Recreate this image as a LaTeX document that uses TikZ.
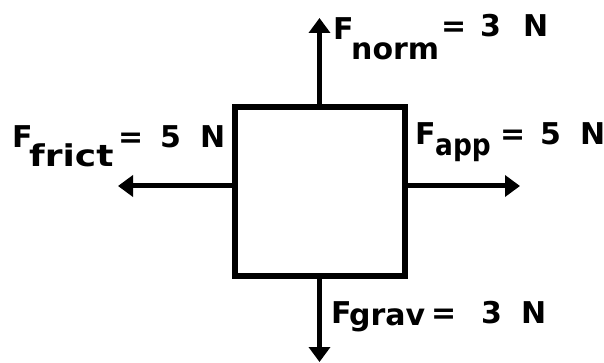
\documentclass[tikz,border=0pt]{standalone}
\usepackage{fontspec}
\setmainfont{DejaVu Sans}
\usetikzlibrary{arrows.meta}
\begin{document}
\begin{tikzpicture}[x=1pt,y=-1pt,
  force/.style={line width=5pt,-{Triangle[width=21pt,length=15pt]}},
  lab/.style={inner sep=0pt,anchor=base west,font=\bfseries\fontsize{30}{30}\selectfont}]
\useasboundingbox (0,0) rectangle (604,363);
\node[draw,line width=5.5pt,minimum width=170pt,minimum height=169pt,inner sep=0pt] (box) at (320,191.5) {};
\coordinate (top) at (319.5,107);
\coordinate (bot) at (319.5,276);
\coordinate (lft) at (235,186);
\coordinate (rgt) at (405,186);
\coordinate (tn) at (319.5,18);
\coordinate (tg) at (319.5,362);
\coordinate (tf) at (118,186);
\coordinate (ta) at (520,186);
\draw[force] (top) -- (tn);
\draw[force] (bot) -- (tg);
\draw[force] (lft) -- (tf);
\draw[force] (rgt) -- (ta);
\node[lab] (fnorm) at (333,40) {\makebox[18pt][l]{F}\raisebox{-20pt}{\makebox[90pt][l]{norm}}\raisebox{3pt}{\makebox[39pt][l]{=}\makebox[43pt][l]{3}N}};
\node[lab] (ffrict) at (12,148) {\makebox[17pt][l]{F}\raisebox{-19pt}{\makebox[89pt][l]{\scalebox{1.2}[1]{frict}}}\makebox[42pt][l]{=}\makebox[40pt][l]{5}N};
\node[lab] (fapp) at (415,145) {\makebox[20pt][l]{F}\raisebox{-11pt}{\makebox[65pt][l]{\scalebox{0.88}[1]{app}}}\makebox[40pt][l]{=}\makebox[40pt][l]{5}N};
\node[lab] (fgrav) at (331,323) {\makebox[18pt][l]{F}\raisebox{-2pt}{\makebox[82pt][l]{grav}}\makebox[50pt][l]{=}\makebox[40pt][l]{3}N};
\end{tikzpicture}
\end{document}
